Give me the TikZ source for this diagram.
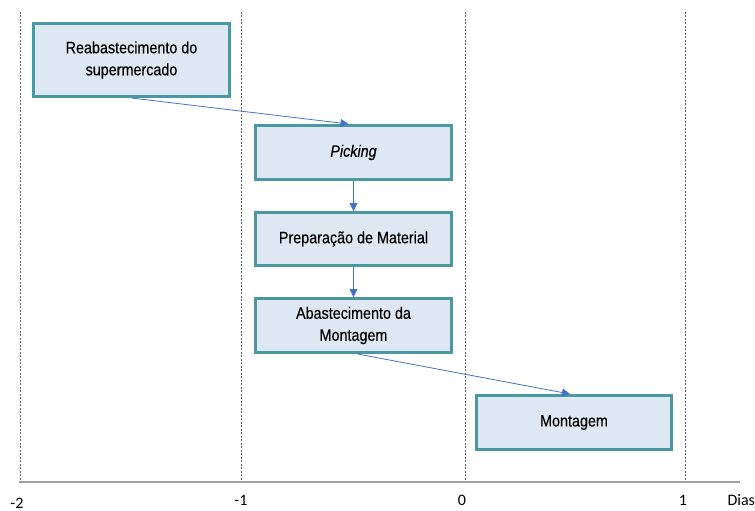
\documentclass[tikz,border=0pt]{standalone}
\usepackage{fontspec}
\setmainfont[FakeStretch=0.87,FakeBold=0.3]{Liberation Sans}
\newfontfamily\axisfont{Carlito}
\usetikzlibrary{arrows.meta}
\definecolor{boxborder}{HTML}{4A98A2}
\definecolor{boxfill}{HTML}{DEE8F3}
\definecolor{arrowblue}{HTML}{4472C4}
\definecolor{guide}{HTML}{606060}
\definecolor{axisgray}{HTML}{A0A0A0}
\begin{document}
\begin{tikzpicture}[x=1pt,y=-1pt,
  stepbox/.style={draw=boxborder,line width=3pt,fill=boxfill,rectangle,
    inner sep=0pt,align=center,font=\fontsize{16.5}{22}\selectfont,text=black},
  flow/.style={draw=arrowblue,line width=0.8pt,-{Triangle[length=8pt,width=8pt]}},
  guideline/.style={draw=guide,line width=0.6pt,dash pattern=on 2pt off 1.5pt},
  ticklabel/.style={font=\axisfont\fontsize{16}{19}\selectfont,text=black}]
\useasboundingbox (0,0) rectangle (755,511);
% vertical guides
\foreach \gx/\gn in {20/ga,241/gb,465/gc,685/gd}{
  \coordinate (\gn top) at (\gx,12);
  \coordinate (\gn bot) at (\gx,482);
  \draw[guideline] (\gn top) -- (\gn bot);
}
% axis
\coordinate (axL) at (19,482);
\coordinate (axR) at (740,482);
\draw[draw=axisgray,line width=1.5pt] (axL) -- (axR);
\node[ticklabel] (lm2) at (17,503) {-2};
\node[ticklabel] (lm1) at (241,500) {-1};
\node[ticklabel] (l0) at (462,500) {0};
\node[ticklabel] (l1) at (683,500) {1};
\node[ticklabel,anchor=west] (ldias) at (724,500) {Dias};
% boxes
\node[stepbox,minimum width=196pt,minimum height=73pt] (b1) at (131.5,60) {Reabastecimento do\\supermercado};
\node[stepbox,minimum width=196pt,minimum height=54pt] (b2) at (353.5,152.5) {\itshape Picking};
\node[stepbox,minimum width=196pt,minimum height=53pt] (b3) at (353.5,239) {Preparação de Material};
\node[stepbox,minimum width=196pt,minimum height=54pt] (b4) at (353.5,325.5) {Abastecimento da\\Montagem};
\node[stepbox,minimum width=195pt,minimum height=54pt] (b5) at (574,422.5) {Montagem};
% connectors
\draw[flow] (b1.south) -- ([xshift=-5pt]b2.north);
\draw[flow] (b2.south) -- (b3.north);
\draw[flow] (b3.south) -- (b4.north);
\draw[flow] ([xshift=4pt]b4.south) -- ([xshift=-4pt]b5.north);
\end{tikzpicture}
\end{document}
